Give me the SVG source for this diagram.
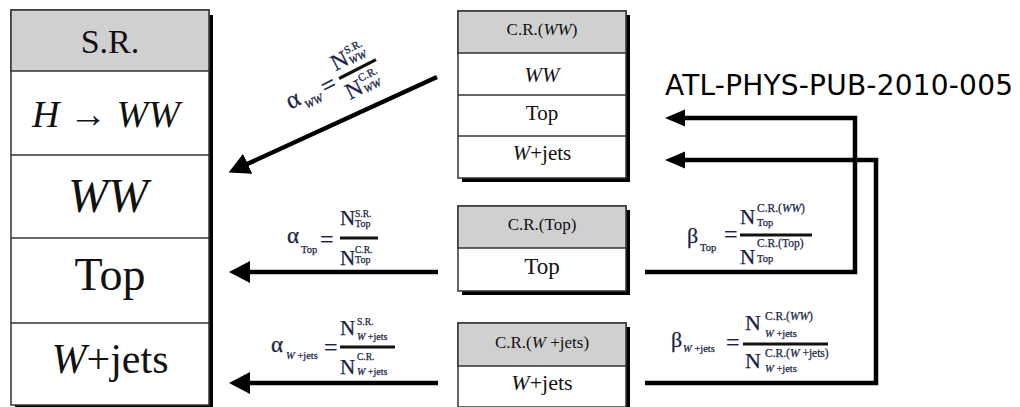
<svg xmlns="http://www.w3.org/2000/svg" width="1020" height="407" viewBox="0 0 1020 407">
  <style>
    .box { fill: #ffffff; stroke: #333333; stroke-width: 1.5; }
    .hdr { fill: #d0d0d0; stroke: #333333; stroke-width: 1.5; }
    .shadow { fill: #000000; }
    .sep { stroke: #333333; stroke-width: 1.5; }
    .t { font-family: "Liberation Serif", "Times New Roman", serif; fill: #111111; text-anchor: middle; }
    .it { font-style: italic; }
    .f { font-family: "Liberation Serif", "Times New Roman", serif; fill: #1a1f45; stroke: #1a1f45; stroke-width: 0.25; }
    .bar { stroke: #111111; stroke-width: 2.8; }
    .conn { fill: none; stroke: #000000; stroke-width: 4.5; }
    .label { font-family: "DejaVu Sans", Verdana, sans-serif; font-size: 28px; fill: #000000; }
  </style>
  <defs>
    <marker id="ah" markerUnits="userSpaceOnUse" markerWidth="24" markerHeight="24" refX="3" refY="11" orient="auto">
      <path d="M0,0 L21,11 L0,22 Z" fill="#000000"/>
    </marker>
    <marker id="ahs" markerUnits="userSpaceOnUse" markerWidth="22" markerHeight="20" refX="3" refY="8.5" orient="auto">
      <path d="M0,0 L20,8.5 L0,17 Z" fill="#000000"/>
    </marker>
  </defs>

  <!-- signal region table -->
  <g id="sr">
    <rect class="shadow" x="15" y="15" width="198" height="395"/>
    <rect class="box" x="11" y="10" width="198" height="395"/>
    <rect class="hdr" x="11" y="10" width="198" height="61"/>
    <line class="sep" x1="11" y1="155" x2="209" y2="155"/>
    <line class="sep" x1="11" y1="238" x2="209" y2="238"/>
    <line class="sep" x1="11" y1="323" x2="209" y2="323"/>
    <text class="t" x="110" y="53" font-size="34">S.R.</text>
    <text class="t" x="106" y="127" font-size="38"><tspan class="it">H</tspan> → <tspan class="it">WW</tspan></text>
    <text class="t it" x="108" y="212" font-size="48">WW</text>
    <text class="t" x="110" y="290" font-size="46">Top</text>
    <text class="t" x="110" y="373" font-size="42"><tspan class="it">W</tspan>+jets</text>
  </g>

  <!-- WW control region -->
  <g id="cr-ww">
    <rect class="shadow" x="462" y="15" width="168" height="167"/>
    <rect class="box" x="458" y="11" width="168" height="167"/>
    <rect class="hdr" x="458" y="11" width="168" height="42"/>
    <line class="sep" x1="458" y1="95" x2="626" y2="95"/>
    <line class="sep" x1="458" y1="136" x2="626" y2="136"/>
    <text class="t" x="542" y="35" font-size="17">C.R.(<tspan class="it">WW</tspan>)</text>
    <text class="t it" x="542" y="82" font-size="21">WW</text>
    <text class="t" x="542" y="120" font-size="21">Top</text>
    <text class="t" x="542" y="160" font-size="21"><tspan class="it">W</tspan>+jets</text>
  </g>

  <!-- top control region -->
  <g id="cr-top">
    <rect class="shadow" x="462" y="210" width="168" height="85"/>
    <rect class="box" x="458" y="206" width="168" height="85"/>
    <rect class="hdr" x="458" y="206" width="168" height="42"/>
    <text class="t" x="542" y="230" font-size="17">C.R.(Top)</text>
    <text class="t" x="542" y="274" font-size="23">Top</text>
  </g>

  <!-- W+jets control region -->
  <g id="cr-wjets">
    <rect class="shadow" x="462" y="327" width="168" height="84"/>
    <rect class="box" x="458" y="323" width="168" height="84"/>
    <rect class="hdr" x="458" y="323" width="168" height="43"/>
    <text class="t" x="542" y="348" font-size="17">C.R.(<tspan class="it">W</tspan> +jets)</text>
    <text class="t" x="542" y="390" font-size="22"><tspan class="it">W</tspan>+jets</text>
  </g>

  <text id="ref-label" class="label" x="665" y="95" textLength="348">ATL-PHYS-PUB-2010-005</text>

  <!-- transfer factors and connectors -->
  <g id="connectors">
    <line class="conn" x1="437" y1="77" x2="245" y2="165" marker-end="url(#ah)"/>
    <line class="conn" x1="438" y1="272" x2="247" y2="272" marker-end="url(#ah)"/>
    <line class="conn" x1="438" y1="383" x2="247" y2="383" marker-end="url(#ah)"/>
    <path class="conn" d="M645,272 H855 V118 H682" marker-end="url(#ahs)"/>
    <path class="conn" d="M645,383 H876 V160 H682" marker-end="url(#ahs)"/>
  </g>

  <!-- alpha WW, written along the diagonal arrow -->
  <g id="alpha-ww" transform="translate(290.5,109.7) rotate(-27) scale(1.15)">
    <text class="f" x="0" y="0" font-size="22">α</text>
    <text class="f it" x="13" y="6" font-size="10">WW</text>
    <text class="f" x="33" y="3" font-size="22">=</text>
    <line class="bar" x1="50" y1="-5" x2="86" y2="-5"/>
    <text class="f" x="50" y="-12" font-size="20">N</text>
    <text class="f" x="65" y="-21" font-size="9.5">S.R.</text>
    <text class="f it" x="65" y="-11" font-size="9.5">WW</text>
    <text class="f" x="50" y="16" font-size="20">N</text>
    <text class="f" x="65" y="6" font-size="9.5">C.R.</text>
    <text class="f it" x="65" y="17" font-size="9.5">WW</text>
  </g>

  <!-- alpha Top -->
  <g id="alpha-top">
    <text class="f" x="287" y="243" font-size="23">α</text>
    <text class="f" x="301" y="253" font-size="10.5">Top</text>
    <text class="f" x="320" y="247" font-size="24">=</text>
    <line class="bar" x1="340" y1="238" x2="378" y2="238"/>
    <text class="f" x="340" y="225" font-size="21">N</text>
    <text class="f" x="355" y="217" font-size="9.5">S.R.</text>
    <text class="f" x="355" y="227" font-size="10">Top</text>
    <text class="f" x="340" y="265" font-size="21">N</text>
    <text class="f" x="355" y="253" font-size="9.5">C.R.</text>
    <text class="f" x="355" y="263" font-size="10">Top</text>
  </g>

  <!-- alpha W+jets -->
  <g id="alpha-wjets">
    <text class="f" x="271" y="352" font-size="23">α</text>
    <text class="f" x="286" y="359" font-size="10.5"><tspan class="it">W</tspan> +jets</text>
    <text class="f" x="324" y="355" font-size="24">=</text>
    <line class="bar" x1="340" y1="347" x2="395" y2="347"/>
    <text class="f" x="340" y="335" font-size="21">N</text>
    <text class="f" x="357" y="325" font-size="9.5">S.R.</text>
    <text class="f" x="357" y="340" font-size="10"><tspan class="it">W</tspan> +jets</text>
    <text class="f" x="340" y="374" font-size="21">N</text>
    <text class="f" x="357" y="360" font-size="9.5">C.R.</text>
    <text class="f" x="357" y="375" font-size="10"><tspan class="it">W</tspan> +jets</text>
  </g>

  <!-- beta Top -->
  <g id="beta-top">
    <text class="f" x="687" y="243" font-size="22">β</text>
    <text class="f" x="700" y="251" font-size="10.5">Top</text>
    <text class="f" x="724" y="242" font-size="24">=</text>
    <line class="bar" x1="740" y1="235" x2="812" y2="235"/>
    <text class="f" x="740" y="224" font-size="21">N</text>
    <text class="f" x="757" y="212" font-size="11.5">C.R.(<tspan class="it">WW</tspan>)</text>
    <text class="f" x="757" y="226" font-size="10.5">Top</text>
    <text class="f" x="740" y="264" font-size="21">N</text>
    <text class="f" x="757" y="247" font-size="11.5">C.R.(Top)</text>
    <text class="f" x="757" y="262" font-size="10.5">Top</text>
  </g>

  <!-- beta W+jets -->
  <g id="beta-wjets">
    <text class="f" x="671" y="347" font-size="22">β</text>
    <text class="f" x="683" y="352" font-size="10.5"><tspan class="it">W</tspan> +jets</text>
    <text class="f" x="726" y="350" font-size="24">=</text>
    <line class="bar" x1="743" y1="344" x2="828" y2="344"/>
    <text class="f" x="745" y="330" font-size="22">N</text>
    <text class="f" x="765" y="320" font-size="11.5">C.R.(<tspan class="it">WW</tspan>)</text>
    <text class="f" x="765" y="337" font-size="10.5"><tspan class="it">W</tspan> +jets</text>
    <text class="f" x="745" y="368" font-size="22">N</text>
    <text class="f" x="765" y="357" font-size="11.5">C.R.(<tspan class="it">W</tspan> +jets)</text>
    <text class="f" x="765" y="372" font-size="10.5"><tspan class="it">W</tspan> +jets</text>
  </g>
</svg>
